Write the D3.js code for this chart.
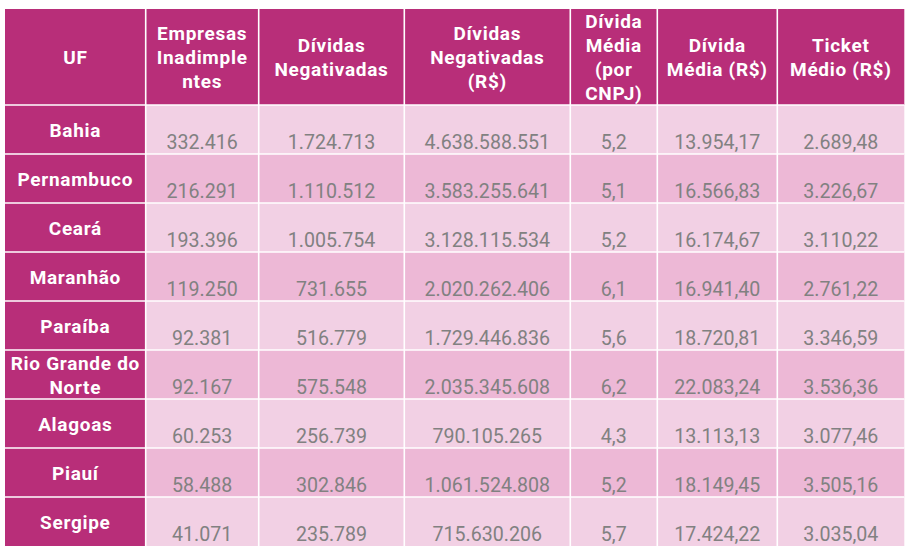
<!DOCTYPE html>
<html>
<head>
<meta charset="utf-8">
<script src="https://cdn.jsdelivr.net/npm/d3@7"></script>
<style>
  html, body { margin: 0; padding: 0; background: #fff; }
  svg { display: block; font-family: Roboto, "Noto Sans", sans-serif; }
</style>
</head>
<body>
<div id="chart"></div>
<script>
const states = ['Bahia', 'Pernambuco', 'Ceará', 'Maranhão', 'Paraíba', 'Rio Grande do Norte', 'Alagoas', 'Piauí', 'Sergipe']
const empresas = [332416, 216291, 193396, 119250, 92381, 92167, 60253, 58488, 41071]
const dividas = [1724713, 1110512, 1005754, 731655, 516779, 575548, 256739, 302846, 235789]
const dividasRS = [4638588551, 3583255641, 3128115534, 2020262406, 1729446836, 2035345608, 790105265, 1061524808, 715630206]
const mediaCnpj = [5.2, 5.1, 5.2, 6.1, 5.6, 6.2, 4.3, 5.2, 5.7]
const mediaRS = [13954.17, 16566.83, 16174.67, 16941.40, 18720.81, 22083.24, 13113.13, 18149.45, 17424.22]
const ticket = [2689.48, 3226.67, 3110.22, 2761.22, 3346.59, 3536.36, 3077.46, 3505.16, 3035.04]
const headers = [
    ['UF'],
    ['Empresas', 'Inadimple', 'ntes'],
    ['Dívidas', 'Negativadas'],
    ['Dívidas', 'Negativadas', '(R$)'],
    ['Dívida', 'Média', '(por', 'CNPJ)'],
    ['Dívida', 'Média (R$)'],
    ['Ticket', 'Médio (R$)']
]

// layout
const width = 916, height = 550
const tableLeft = 5, tableTop = 9, headerH = 96, tableBottom = 546
const colWidths = [140.7, 113, 145.6, 166, 87, 120, 127]
const lineH = 24

const br = d3.formatLocale({ decimal: ',', thousands: '.', grouping: [3], currency: ['R$', ''] })
const fmtInt = br.format(',d')
const fmt1 = br.format(',.1f')
const fmt2 = br.format(',.2f')

const columns = [
    { values: empresas, fmt: fmtInt },
    { values: dividas, fmt: fmtInt },
    { values: dividasRS, fmt: fmtInt },
    { values: mediaCnpj, fmt: fmt1 },
    { values: mediaRS, fmt: fmt2 },
    { values: ticket, fmt: fmt2 }
]

const colIdx = d3.range(colWidths.length)
const starts = [tableLeft, ...d3.cumsum(colWidths).map(c => tableLeft + c)]
const x = d3.scaleOrdinal().domain(colIdx).range(starts)
const w = i => colWidths[i]
const y = d3.scaleBand().domain(states).range([tableTop + headerH, tableBottom]).paddingInner(0)

const headColor = '#b82e79'
const rowColors = ['#f2d0e4', '#edb8d6']
const textGray = '#818181'

const svg = d3.select('#chart')
    .append('svg')
    .attr('width', width)
    .attr('height', height)

// header
const head = svg.append('g')
head.selectAll('rect')
    .data(colIdx)
    .enter()
    .append('rect')
    .attr('x', i => x(i))
    .attr('y', tableTop)
    .attr('width', w)
    .attr('height', headerH)
    .attr('fill', headColor)

head.selectAll('text')
    .data(colIdx)
    .enter()
    .append('text')
    .attr('text-anchor', 'middle')
    .attr('fill', '#fff')
    .attr('font-weight', 700)
    .attr('font-size', 19)
    .attr('letter-spacing', 0.7)
    .each(function (i) {
        const lines = headers[i]
        const cy = tableTop + headerH / 2
        d3.select(this).selectAll('tspan')
            .data(lines)
            .enter()
            .append('tspan')
            .attr('x', x(i) + w(i) / 2)
            .attr('y', (d, k) => cy + 6.8 + (k - (lines.length - 1) / 2) * lineH)
            .text(d => d)
    })

// body rows
const rows = svg.selectAll('g.row')
    .data(states)
    .enter()
    .append('g')
    .attr('class', 'row')
    .attr('transform', d => `translate(0, ${y(d)})`)

rows.append('rect')
    .attr('x', x(0))
    .attr('width', w(0))
    .attr('height', y.bandwidth())
    .attr('fill', headColor)

rows.selectAll('rect.cell')
    .data((d, r) => columns.map((c, j) => ({ r, j: j + 1, c })))
    .enter()
    .append('rect')
    .attr('class', 'cell')
    .attr('x', d => x(d.j))
    .attr('width', d => w(d.j))
    .attr('height', y.bandwidth())
    .attr('fill', d => rowColors[d.r % 2])

rows.selectAll('text.val')
    .data((d, r) => columns.map((c, j) => ({ r, j: j + 1, c })))
    .enter()
    .append('text')
    .attr('class', 'val')
    .attr('x', d => x(d.j) + w(d.j) / 2)
    .attr('y', y.bandwidth() - 5.5)
    .attr('text-anchor', 'middle')
    .attr('fill', textGray)
    .attr('font-size', 19.6)
    .text(d => d.c.fmt(d.c.values[d.r]))

// state names, wrapped to the first column
rows.append('text')
    .attr('text-anchor', 'middle')
    .attr('fill', '#fff')
    .attr('font-weight', 700)
    .attr('font-size', 19)
    .attr('letter-spacing', 0.7)
    .each(function (d) {
        const t = d3.select(this)
        const maxW = w(0) - 4
        const words = d.split(' ')
        const lines = []
        let line = []
        const probe = t.append('tspan')
        words.forEach(word => {
            const test = [...line, word].join(' ')
            probe.text(test)
            if (probe.node().getComputedTextLength() > maxW && line.length) {
                lines.push(line.join(' '))
                line = [word]
            } else {
                line.push(word)
            }
        })
        lines.push(line.join(' '))
        probe.remove()
        const cy = y.bandwidth() / 2
        t.selectAll('tspan')
            .data(lines)
            .enter()
            .append('tspan')
            .attr('x', x(0) + w(0) / 2)
            .attr('y', (l, k) => cy + 7 + (k - (lines.length - 1) / 2) * lineH)
            .text(l => l)
    })

// white grid lines
const grid = svg.append('g')
    .attr('stroke', '#fff')
    .attr('stroke-width', 1.6)

grid.selectAll('line.v')
    .data(colIdx.slice(1))
    .enter()
    .append('line')
    .attr('x1', i => x(i))
    .attr('x2', i => x(i))
    .attr('y1', tableTop)
    .attr('y2', tableBottom)

grid.selectAll('line.h')
    .data(states)
    .enter()
    .append('line')
    .attr('x1', tableLeft)
    .attr('x2', starts[starts.length - 1])
    .attr('y1', d => y(d))
    .attr('y2', d => y(d))
</script>
</body>
</html>
